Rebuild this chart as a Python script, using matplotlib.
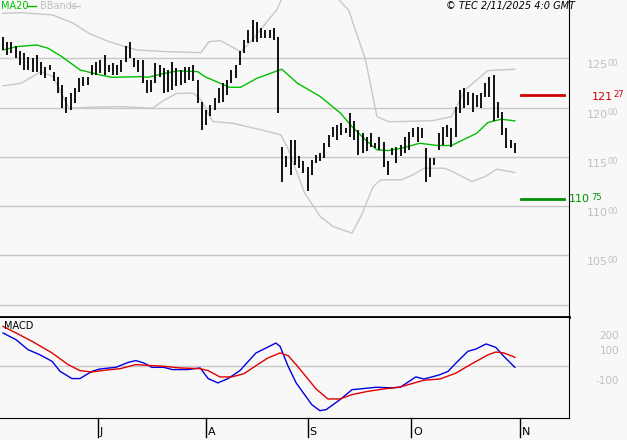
import matplotlib
matplotlib.use("Agg")
import matplotlib.pyplot as plt
import numpy as np

BG = "#f8f8f8"
GRID = "#c8c8c8"
LBL = "#c0c0c0"

# daily bars (high / low)
highs = [12715, 12670, 12670, 12620, 12570, 12550, 12515, 12500, 12535, 12465,
         12415, 12430, 12365, 12315, 12230, 12110, 12145, 12195, 12295, 12315,
         12315, 12430, 12465, 12485, 12535, 12430, 12450, 12430, 12485, 12620,
         12670, 12500, 12485, 12485, 12280, 12280, 12450, 12430, 12400, 12380,
         12465, 12400, 12380, 12415, 12415, 12430, 12280, 12060, 11975, 12025,
         12095, 12195, 12245, 12280, 12380, 12430, 12570, 12685, 12785, 12890,
         12870, 12805, 12785, 12785, 12805, 12720, 11605, 11505, 11670, 11670,
         11505, 11455, 11400, 11470, 11520, 11535, 11640, 11725, 11805, 11825,
         11840, 11790, 11945, 11860, 11775, 11740, 11705, 11740, 11640, 11705,
         11655, 11455, 11590, 11605, 11620, 11705, 11755, 11790, 11805, 11790,
         11590, 11485, 11485, 11740, 11805, 11825, 11790, 12010, 12180, 12195,
         12160, 12145, 12130, 12145, 12245, 12315, 12330, 12060, 11960, 11790,
         11670, 11640]
lows = [12585, 12535, 12550, 12500, 12430, 12380, 12380, 12365, 12365, 12330,
        12295, 12380, 12265, 12145, 11995, 11945, 11975, 12045, 12160, 12215,
        12230, 12330, 12330, 12350, 12330, 12365, 12330, 12330, 12365, 12465,
        12500, 12415, 12365, 12245, 12145, 12160, 12245, 12315, 12145, 12160,
        12180, 12215, 12230, 12245, 12280, 12265, 12045, 11775, 11825, 11910,
        11975, 12045, 12060, 12130, 12245, 12295, 12430, 12550, 12650, 12670,
        12670, 12705, 12705, 12705, 12685, 11945, 11250, 11400, 11320, 11420,
        11385, 11335, 11150, 11320, 11435, 11455, 11485, 11605, 11705, 11670,
        11725, 11740, 11705, 11670, 11520, 11535, 11555, 11605, 11590, 11570,
        11400, 11320, 11520, 11435, 11505, 11535, 11570, 11705, 11655, 11690,
        11250, 11300, 11420, 11570, 11620, 11705, 11605, 11705, 11945, 11995,
        12025, 11960, 12010, 11995, 12110, 12110, 11860, 11890, 11725, 11590,
        11590, 11535]

ma_x = [0, 3.2, 8, 10.7, 13.9, 18.2, 23, 25.7, 32.7, 34.3, 37.5, 41.2, 46, 47.7, 53.5,
        56.2, 60, 65.9, 69.6, 75, 79.8, 82.5, 85.7, 88.4, 91, 94.2, 98.5, 102.8, 106,
        112, 114.6, 117.8, 121]
ma_y = [12584, 12618, 12635, 12601, 12517, 12382, 12331, 12307, 12314, 12307, 12341,
        12372, 12365, 12314, 12206, 12206, 12297, 12389, 12247, 12112, 11943, 11807,
        11672, 11571, 11564, 11588, 11638, 11615, 11615, 11740, 11848, 11882, 11865]

up1_x = [0, 4.3, 11.8, 16.6, 20.3, 25, 31.6, 38.2, 46.8, 48.7, 51.4, 56.2, 58.9, 64.8, 68.5]
up1_y = [12956, 12963, 12939, 12855, 12753, 12669, 12584, 12568, 12557, 12669, 12679,
         12568, 12686, 12997, 13365]
up2_x = [73.3, 81.7, 85.7, 88.4, 91, 94.2, 101.7, 106, 109.2, 114.6, 121]
up2_y = [13365, 12990, 12483, 11909, 11858, 11858, 11868, 11909, 12179, 12375, 12389]
lo_x = [0, 4.3, 9, 11.8, 15.6, 20.3, 27.8, 35.3, 38.2, 41.1, 45, 46.8, 49.6, 54.3, 61,
        65.7, 67.5, 71.3, 75, 78, 82.5, 84.6, 87.5, 89.3, 94.2, 96.9, 99.6, 104.4, 107,
        110.8, 114, 116.7, 121]
lo_y = [12220, 12247, 12365, 12314, 11993, 12003, 12010, 11993, 12078, 12145, 12145,
        12078, 11858, 11841, 11774, 11723, 11571, 11132, 10896, 10794, 10726, 10896,
        11199, 11267, 11267, 11318, 11385, 11385, 11335, 11250, 11301, 11375, 11341]

macd_x = [0, 3.1, 5.9, 8.7, 11.6, 13.5, 16.3, 18.2, 21, 22.9, 26.7, 29.6, 31.4, 33.3,
          35.2, 38, 40, 43.7, 46.6, 48.5, 50.8, 53.2, 56, 59.8, 61.7, 64.5, 65.5, 67.4,
          69.3, 73, 74.9, 76.4, 79.7, 82.5, 84.4, 88.2, 91.9, 93.9, 97.6, 99.5, 101.4,
          103.3, 105.2, 107.1, 109.9, 111.8, 114.2, 116.5, 118.4, 121]
macd_y = [220, 175, 109, 75, 31, -36, -84, -84, -36, -20, -9, 24, 36, 20, -9, -9, -24,
          -24, -13, -84, -113, -84, -31, 87, 113, 153, 131, -2, -113, -258, -298, -291,
          -224, -158, -153, -142, -146, -142, -73, -87, -73, -58, -36, 20, 98, 113, 147,
          124, 64, -9]
sig_x = [0, 3.1, 6.9, 11.6, 15.4, 18.2, 21, 23.9, 27.7, 31.4, 34.3, 38, 41.8, 46.6, 48.5,
         51.3, 54.1, 57, 59.8, 62.6, 65.5, 67.4, 69.3, 72.1, 74, 76.8, 79.7, 82.5, 86.3,
         90.1, 93.9, 99.5, 103.3, 107.1, 110.9, 114.7, 116.5, 118.4, 121]
sig_y = [264, 220, 164, 87, 9, -31, -40, -29, -18, 9, 4, -2, -13, -18, -31, -73, -73, -51,
         2, 53, 87, 69, 9, -87, -153, -220, -220, -191, -169, -153, -140, -95, -87, -47,
         16, 75, 93, 87, 58]

price_grid = [12500, 12000, 11500, 11000, 10500, 10000]
months = ["J", "A", "S", "O", "N"]
month_pos = [22.5, 48, 72, 96.5, 122.2]
resist, support = 12127, 11075

W, H = 627, 440
PT = 0.72  # points per pixel at dpi 100
fig = plt.figure(figsize=(W / 100, H / 100), dpi=100, facecolor=BG)
XL = (-0.71, 133.8)
ax = fig.add_axes([0, (H - 317) / H, 569 / W, 317 / H], facecolor=BG)
ax2 = fig.add_axes([0, (H - 418) / H, 569 / W, 100 / H], facecolor=BG)
for a in (ax, ax2):
    a.set_xlim(*XL)
    a.set_xticks([]); a.set_yticks([])
    for s in a.spines.values():
        s.set_visible(False)
    a.spines["right"].set_visible(True)
    a.spines["right"].set_color("black")
ax.spines["bottom"].set_visible(True)
ax.spines["bottom"].set_linewidth(2)
ax2.spines["bottom"].set_visible(True)
ax.set_ylim(9876, 13091)
ax2.set_ylim(-347, 320)


def side_text(a, s, y, dx, dy, color, size, ha="left"):
    a.annotate(s, (1, y), xycoords=("axes fraction", "data"),
               xytext=(dx * PT, dy * PT), textcoords="offset points", color=color,
               fontsize=size, va="center", ha=ha, annotation_clip=False)


for p in price_grid:
    ax.axhline(p, color=GRID, lw=1, zorder=0)
    if p >= 10500:
        side_text(ax, f"{p // 100}", p, 18, -7, LBL, 8)
        side_text(ax, "00", p, 39, -5, LBL, 6)

ax.plot(up1_x, up1_y, color="#c8c8c8", lw=1)
ax.plot(up2_x, up2_y, color="#c8c8c8", lw=1)
ax.plot(lo_x, lo_y, color="#c8c8c8", lw=1)
ax.plot(ma_x, ma_y, color="#00c000", lw=1)
idx = np.arange(len(highs))
ax.vlines(idx, lows, highs, color="black", lw=1.3)

ax.plot([122.5, 132.5], [resist, resist], color="#d00000", lw=2)
ax.plot([122.5, 132.5], [support, support], color="#009000", lw=2)
side_text(ax, "121", resist, 23, -2, "#d00000", 8)
side_text(ax, "27", resist, 44, 1, "#d00000", 6)
side_text(ax, "110", support, 0, 0, "#009000", 8)
side_text(ax, "75", support, 22, 1, "#009000", 6)

fig.text(0.001, 1 - 6 / H, "MA20", color="#00c000", fontsize=7, va="center")
fig.add_artist(plt.Line2D([27 / W, 36 / W], [1 - 6 / H] * 2, color="#00c000", lw=1))
fig.text(40 / W, 1 - 6 / H, "BBands", color="#c0c0c0", fontsize=7, va="center")
fig.add_artist(plt.Line2D([70 / W, 80 / W], [1 - 6 / H] * 2, color="#c8c8c8", lw=1))
fig.text(575 / W, 1 - 6 / H, "© TEC 2/11/2025 4:0 GMT", fontsize=7, style="italic",
         ha="right", va="center")

ax2.axhline(0, color=GRID, lw=1, zorder=0)
ax2.plot(macd_x, macd_y, color="#0000e0", lw=1)
ax2.plot(sig_x, sig_y, color="#e00000", lw=1)
ax2.text(0.3, 265, "MACD", fontsize=7, va="center")
for v in (200, 100, -100):
    side_text(ax2, str(v), v, 50, 0, LBL, 7.5, ha="right")

for m, p in zip(months, month_pos):
    ax2.plot([p, p], [-347, -347 - 130], color="black", lw=1, clip_on=False)
    ax2.text(p + 0.4, -347 - 95, m, fontsize=8, va="center", ha="left")

fig.savefig("out.png", dpi=100, facecolor=BG)
